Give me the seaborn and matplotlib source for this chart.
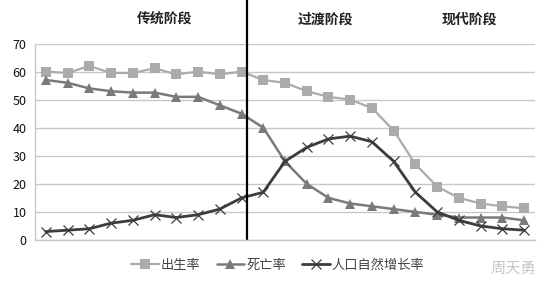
import numpy as np
import pandas as pd
import matplotlib as mpl
import matplotlib.pyplot as plt
import seaborn as sns

mpl.use('Agg')

# Data (23 time points, no x labels)
periods = list(range(1, 24))
birth_rate = [60, 59.5, 62, 59.5, 59.5, 61.2, 59, 60, 59, 60, 57, 56, 53, 51, 50, 47, 39,
              27, 19, 15, 13, 12, 11.3]
death_rate = [57, 56, 54, 53, 52.5, 52.5, 51, 51, 48, 45, 40, 28, 20, 15, 13, 12, 11,
              10, 9, 8, 8, 8, 7]
growth_rate = [3, 3.5, 4, 6, 7, 9, 8, 9, 11, 15, 17, 28, 33, 36, 37, 35, 28,
               17, 10, 7, 5, 4, 3.5]
series_names = ['出生率', '死亡率', '人口自然增长率']
stage_names = ['传统阶段', '过渡阶段', '现代阶段']
stage_centers = [6.48, 13.84, 20.5]
split_at = 10.27

sns.set_theme(style='white')
plt.rcParams['font.family'] = ['Noto Sans CJK SC', 'DejaVu Sans']

fig = plt.figure(figsize=(5.5, 2.87), dpi=100)
ax = fig.add_axes([0.0636, 0.1638, 0.9091, 0.6846])

birth_c, death_c, growth_c = '#ababab', '#7a7a7a', '#3c3c3c'
sns.lineplot(x=periods, y=birth_rate, ax=ax, color=birth_c, lw=1.6, linestyle='-',
             marker='s', markersize=7, markeredgewidth=0, markeredgecolor=birth_c,
             label=series_names[0])
sns.lineplot(x=periods, y=death_rate, ax=ax, color=death_c, lw=1.8, linestyle='-',
             marker='^', markersize=7.5, markeredgewidth=0, markeredgecolor=death_c,
             label=series_names[1])
sns.lineplot(x=periods, y=growth_rate, ax=ax, color=growth_c, lw=2.0, linestyle='-',
             marker='x', markersize=7, markeredgewidth=0.9, markeredgecolor=growth_c,
             label=series_names[2])

ax.set_xlim(0.5, 23.5)
ax.set_ylim(0, 70)
ax.set_yticks(range(0, 71, 10))
ax.set_xticks([])
ax.grid(axis='y', color='#c8c8c8', lw=1)
ax.set_axisbelow(True)
for side in ['top', 'right']:
    ax.spines[side].set_visible(False)
for side in ['left', 'bottom']:
    ax.spines[side].set_color('#c8c8c8')
    ax.spines[side].set_linewidth(1)
ax.tick_params(axis='y', labelsize=9, colors='#111111', length=0, pad=6)

# stage divider reaching up to the top of the figure
ax.axvline(split_at, ymin=0, ymax=1.222, color='black', lw=1.6, clip_on=False)
stage_tf = mpl.transforms.blended_transform_factory(ax.transData, fig.transFigure)
for name, cx in zip(stage_names, stage_centers):
    ax.text(cx, 0.93, name, transform=stage_tf, ha='center', va='center',
            fontsize=10, fontweight='bold', color='#222222')

leg = ax.legend(loc='center', bbox_to_anchor=(0.505, 0.075), bbox_transform=fig.transFigure,
                ncol=3, frameon=False, fontsize=9.5, handlelength=2.1, columnspacing=1.2,
                handletextpad=0.15)
for t in leg.get_texts():
    t.set_color('#444444')

fig.text(0.975, 0.065, '周天勇', ha='right', va='center', fontsize=11, color='#c8c8c8')

plt.savefig('out.png', dpi=100)
